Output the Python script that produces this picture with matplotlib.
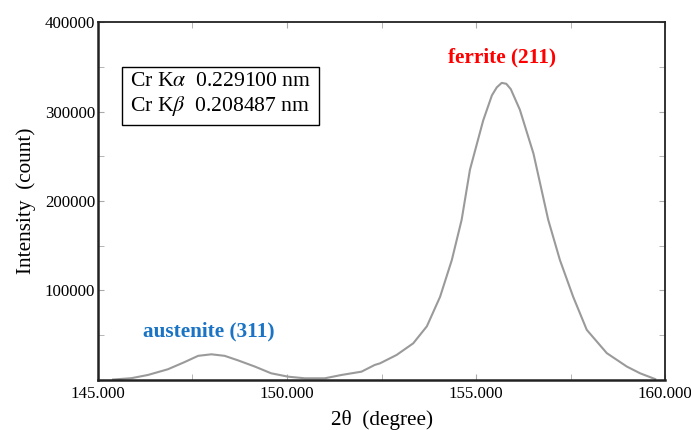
import numpy as np
import matplotlib.pyplot as plt
from matplotlib.ticker import MultipleLocator, FuncFormatter

plt.rcParams['font.family'] = ['Liberation Serif', 'DejaVu Serif']
plt.rcParams['mathtext.fontset'] = 'stix'

# Perfil de difração (2θ em graus, intensidade em contagens)
two_theta = [145.4, 145.88, 146.32, 146.85, 147.29, 147.65, 148.0, 148.35, 148.7, 149.15,
             149.58, 150.03, 150.47, 151.0, 151.44, 151.97, 152.32, 152.46, 152.9, 153.34,
             153.7, 154.05, 154.36, 154.62, 154.84, 155.19, 155.42, 155.55, 155.68, 155.8,
             155.92, 156.16, 156.52, 156.91, 157.22, 157.57, 157.93, 158.46, 158.99, 159.34,
             159.74]
intensity = [500, 2000, 5600, 12000, 20000, 27000, 28700, 27000, 22000, 15000,
             7500, 3700, 1900, 1900, 5600, 9300, 16800, 18600, 28000, 41000,
             60000, 93000, 134000, 179000, 235000, 290000, 318000, 327000, 332000, 331000,
             325000, 302000, 253000, 179000, 134000, 93000, 56000, 30000, 15000, 7500,
             1000]

peak_labels = ['austenite (311)', 'ferrite (211)']
peak_pos = [147.94, 155.7]
peak_label_y = [54000, 360000]
peak_colors = ['#1a73c4', '#ff0000']

wavelengths = [r'Cr K$\alpha$  0.229100 nm', r'Cr K$\beta$  0.208487 nm']

fig = plt.figure(figsize=(6.91, 4.30), dpi=100)
ax = fig.add_axes([0.1418, 0.1163, 0.8206, 0.8325])

ax.plot(two_theta, intensity, color='#9a9a9a', linewidth=1.5)

for lab, xp, yp, c in zip(peak_labels, peak_pos, peak_label_y, peak_colors):
    ax.text(xp, yp, lab, color=c, fontsize=15.3, fontweight='bold', ha='center', va='center')

ax.text(0.056, 0.86, '\n'.join(wavelengths), transform=ax.transAxes, fontsize=15.6,
        va='top', ha='left', linespacing=1.15,
        bbox=dict(boxstyle='square,pad=0.35', facecolor='white', edgecolor='black', linewidth=1))

ax.set_xlim(145, 160)
ax.set_ylim(0, 400000)
ax.xaxis.set_major_locator(MultipleLocator(5))
ax.xaxis.set_minor_locator(MultipleLocator(2.5))
ax.yaxis.set_major_locator(MultipleLocator(100000))
ax.yaxis.set_minor_locator(MultipleLocator(50000))
ax.xaxis.set_major_formatter(FuncFormatter(lambda v, _: f'{v:.3f}'))
ax.yaxis.set_major_formatter(FuncFormatter(lambda v, _: '' if v == 0 else f'{v:.0f}'))

ax.tick_params(which='both', direction='in', top=True, right=True, color='#aaaaaa',
               labelsize=12.2, length=4)
ax.tick_params(axis='y', pad=2)
ax.tick_params(axis='x', pad=4)
for side in ['left', 'bottom']:
    ax.spines[side].set_linewidth(1.8)
    ax.spines[side].set_color('#222222')
for side in ['top', 'right']:
    ax.spines[side].set_linewidth(1.3)
    ax.spines[side].set_color('#222222')

ax.set_xlabel('2θ  (degree)', fontsize=15.3, labelpad=6)
ax.set_ylabel('Intensity  (count)', fontsize=15.3, labelpad=6)

fig.savefig('out.png', dpi=100)
